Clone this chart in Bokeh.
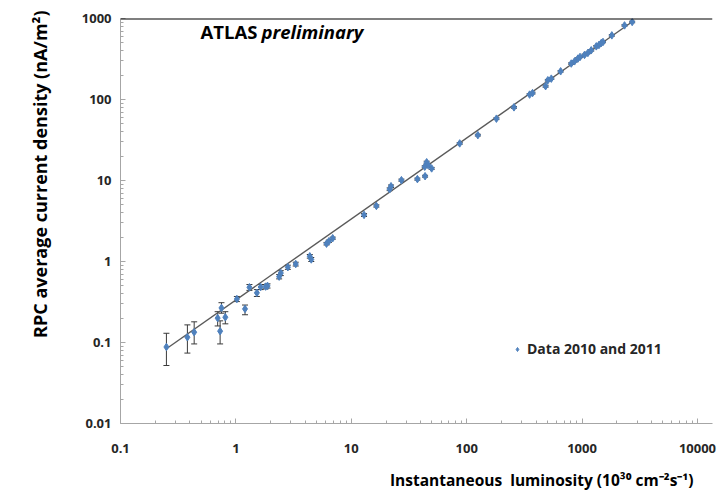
from bokeh.plotting import figure
from bokeh.models import (ColumnDataSource, Whisker, TeeHead, Label, Legend, LegendItem,
                          FixedTicker, CustomJSTickFormatter, Span, Title)
from bokeh.embed import file_html
from bokeh.resources import INLINE

# ---- data ----
lumi = [0.25, 0.38, 0.435, 0.695, 0.73, 0.75, 0.81, 1.02, 1.2, 1.31, 1.52, 1.64, 1.81, 1.88,
        2.37, 2.45, 2.82, 3.3, 4.37, 4.5, 6.1, 6.4, 6.9, 12.9, 16.5, 21.5, 22.1, 27.2, 37.4,
        43.6, 43.3, 45, 46.3, 49.7, 87, 125, 181, 257, 351, 372, 483, 505, 541, 652, 806,
        861, 920, 960, 1050, 1123, 1200, 1328, 1400, 1467, 1518, 1811, 2333, 2718]
current = [0.088, 0.116, 0.134, 0.20, 0.138, 0.267, 0.205, 0.344, 0.26, 0.48, 0.41, 0.484, 0.49, 0.50,
           0.65, 0.72, 0.85, 0.93, 1.16, 1.06, 1.66, 1.78, 1.94, 3.76, 4.85, 7.8, 8.5, 10.1, 10.4,
           11.3, 14.8, 16.8, 15.5, 14.1, 28.7, 36.3, 58, 80, 115, 120, 146, 173, 181, 223, 278,
           296, 320, 335, 355, 376, 405, 453, 470, 499, 513, 619, 822, 906]
current_lo = [0.052, 0.074, 0.096, 0.16, 0.096, 0.23, 0.17, 0.32, 0.22, 0.44, 0.37, 0.45, 0.46, 0.47,
              0.61, 0.67, 0.80, 0.88, 1.10, 1.00, 1.60, 1.72, 1.88, 3.6, 4.7, 7.5, 8.2, 9.8, 10.1,
              11.0, 14.4, 16.3, 15.0, 13.7, 28.0, 35.4, 56.5, 78, 112, 117, 142, 169, 177, 218, 272,
              290, 313, 328, 347, 368, 396, 443, 460, 488, 502, 605, 804, 886]
current_hi = [0.13, 0.165, 0.18, 0.24, 0.185, 0.31, 0.24, 0.37, 0.29, 0.52, 0.45, 0.52, 0.52, 0.53,
              0.69, 0.77, 0.90, 0.98, 1.22, 1.12, 1.72, 1.84, 2.0, 3.9, 5.0, 8.1, 8.8, 10.4, 10.7,
              11.6, 15.2, 17.3, 16.0, 14.5, 29.4, 37.2, 59.5, 82, 118, 123, 150, 177, 185, 228, 284,
              302, 327, 342, 363, 384, 414, 463, 480, 510, 524, 633, 840, 926]

# linear fit in log-log space: current = fit_coef * lumi ** fit_slope
fit_coef = 0.335
fit_slope = 1.0
fit_lumi = [0.25, 2800]

x_ticks = [0.1, 1, 10, 100, 1000, 10000]
y_ticks = [0.01, 0.1, 1, 10, 100, 1000]

legend_label = "Data 2010 and 2011"
x_title = "Instantaneous\u00a0 luminosity (10³⁰ cm⁻²s⁻¹)"
y_title = "RPC average current density (nA/m²)"

# ---- figure ----
FONT = "Open Sans"
p = figure(width=720, height=502, x_axis_type="log", y_axis_type="log",
           x_range=(0.1, 13500), y_range=(0.01, 1000),
           output_backend="svg", toolbar_location=None,
           min_border_left=120, min_border_right=8, min_border_top=18, min_border_bottom=78)
p.grid.visible = False
p.outline_line_color = None

x_minor = [m * t for t in x_ticks for m in range(2, 10)]
y_minor = [m * t for t in y_ticks[:-1] for m in range(2, 10)]

for ax, ticks, minor in ((p.xaxis[0], x_ticks, x_minor), (p.yaxis[0], y_ticks, y_minor)):
    ax.ticker = FixedTicker(ticks=ticks, minor_ticks=minor)
    ax.formatter = CustomJSTickFormatter(code="return tick.toString();")
    ax.axis_line_color = "#a6a6a6"
    ax.major_tick_line_color = "#a6a6a6"
    ax.minor_tick_line_color = "#a6a6a6"
    ax.major_tick_in = 5
    ax.major_tick_out = 0
    ax.minor_tick_in = 3
    ax.minor_tick_out = 0
    ax.major_label_text_font = FONT
    ax.major_label_text_font_style = "bold"
    ax.major_label_text_font_size = "13px"
    ax.major_label_text_color = "#262626"

p.xaxis.major_label_standoff = 20
p.yaxis.major_label_standoff = 9

# y title, toward the top end of the axis as in the reference
p.add_layout(Title(text=y_title, align="right", offset=-8, vertical_align="middle",
                   text_font=FONT, text_font_style="bold", text_font_size="18px",
                   text_color="black", standoff=52), "left")

# x title, right-aligned under the axis
p.add_layout(Title(text=x_title, align="right", offset=19, text_font=FONT,
                   text_font_style="bold", text_font_size="15.5px", text_color="black",
                   standoff=23), "below")

# top border line
p.add_layout(Span(location=y_ticks[-1], dimension="width", line_color="black", line_width=2))

# fit line
fit_current = [fit_coef * v ** fit_slope for v in fit_lumi]
p.line(fit_lumi, fit_current, line_color="#5a5a5a", line_width=1.4)

src = ColumnDataSource(dict(x=lumi, y=current, lo=current_lo, hi=current_hi))
p.add_layout(Whisker(base="x", lower="lo", upper="hi", source=src, dimension="height",
                     line_color="#3a3a3a", line_width=1,
                     upper_head=TeeHead(size=6, line_color="#3a3a3a", line_width=1),
                     lower_head=TeeHead(size=6, line_color="#3a3a3a", line_width=1)))

r = p.scatter("x", "y", source=src, marker="diamond", size=7.5,
              fill_color="#4f81bd", line_color="#4f81bd")

legend = Legend(items=[LegendItem(label=legend_label, renderers=[r])], location=(392, 65),
                border_line_color=None, background_fill_alpha=0, padding=0, margin=0,
                glyph_width=10, glyph_height=14, label_standoff=5, spacing=0,
                label_text_font=FONT, label_text_font_style="bold",
                label_text_font_size="14px", label_text_color="#262626")
p.add_layout(legend)

p.add_layout(Label(x=80, y=392, x_units="screen", y_units="screen", text="ATLAS",
                   text_baseline="middle", text_font=FONT, text_font_style="bold",
                   text_font_size="18.5px", text_color="black"))
p.add_layout(Label(x=141, y=392, x_units="screen", y_units="screen", text="preliminary",
                   text_baseline="middle", text_font=FONT, text_font_style="bold italic",
                   text_font_size="18.5px", text_color="black"))

open("out.html", "w").write(file_html(p, INLINE))
